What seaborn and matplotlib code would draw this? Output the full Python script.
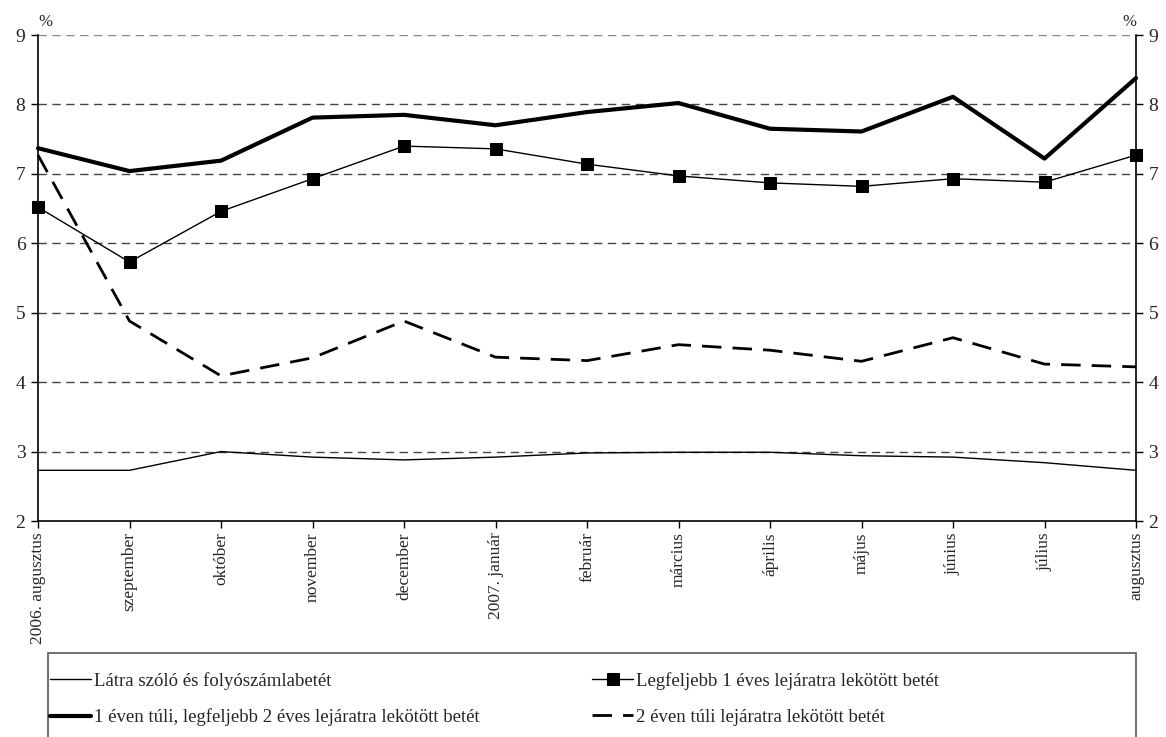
import matplotlib
matplotlib.use("Agg")
import matplotlib.pyplot as plt
from matplotlib.patches import Rectangle
import seaborn as sns
import pandas as pd
import numpy as np

months = ["2006. augusztus", "szeptember", "október", "november", "december",
          "2007. január", "február", "március", "április", "május", "június",
          "július", "augusztus"]

latra = [2.73, 2.73, 3.00, 2.92, 2.88, 2.92, 2.98, 2.99, 2.99, 2.94, 2.92, 2.84, 2.73]
max1ev = [6.52, 5.73, 6.46, 6.93, 7.40, 7.36, 7.14, 6.97, 6.87, 6.82, 6.93, 6.88, 7.27]
ev1_2 = [7.37, 7.04, 7.19, 7.81, 7.85, 7.70, 7.89, 8.02, 7.65, 7.61, 8.11, 7.22, 8.38]
ev2plus = [7.27, 4.88, 4.09, 4.35, 4.88, 4.36, 4.31, 4.54, 4.46, 4.30, 4.64, 4.26, 4.22]

labels = ["Látra szóló és folyószámlabetét",
          "Legfeljebb 1 éves lejáratra lekötött betét",
          "1 éven túli, legfeljebb 2 éves lejáratra lekötött betét",
          "2 éven túli lejáratra lekötött betét"]

sns.set_style("ticks")
plt.rcParams['font.family'] = ['Liberation Serif', 'DejaVu Serif']

fig = plt.figure(figsize=(11.66, 7.37), dpi=100)
ax = fig.add_axes([38/1166, 1-521/737, (1136-38)/1166, (521-35)/737])

x = np.arange(len(months))
df = pd.DataFrame({"x": x, "latra": latra, "max1ev": max1ev, "ev1_2": ev1_2, "ev2plus": ev2plus})

sns.lineplot(data=df, x="x", y="latra", ax=ax, color="black", linewidth=1.0, label=labels[0])
sns.lineplot(data=df, x="x", y="max1ev", ax=ax, color="black", linewidth=1.0,
             marker="s", markersize=8, markeredgecolor="black", label=labels[1])
sns.lineplot(data=df, x="x", y="ev1_2", ax=ax, color="black", linewidth=3.0, label=labels[2])
sns.lineplot(data=df, x="x", y="ev2plus", ax=ax, color="black", linewidth=2.0, label=labels[3])
ax.lines[-1].set_dashes([7, 4])
for ln in ax.lines:
    ln.set_clip_on(False)

ax.set_xlim(0, 12)
ax.set_ylim(2, 9)
ax.set_yticks(range(2, 10))
ax.set_xticks(x)
ax.set_xticklabels(months, rotation=90, fontsize=12.5)
ax.set_xlabel("")
ax.set_ylabel("")
for yv in range(3, 10):
    ax.axhline(yv, color="#444444" if yv < 9 else "#888888", linewidth=1.0,
               linestyle=(0, (6, 4)), zorder=0)

ax.tick_params(axis="y", which="both", left=True, right=True, labelleft=True, labelright=True,
               direction="out", length=5, width=1, labelsize=14, pad=4, color="black")
ax.tick_params(axis="x", direction="out", length=5, width=1, pad=3, color="black")
for s in ["left", "right", "bottom"]:
    ax.spines[s].set_visible(True)
    ax.spines[s].set_color("black")
    ax.spines[s].set_linewidth(1.2)
ax.spines["top"].set_visible(False)

ax.text(0, 1.01, "%", transform=ax.transAxes, ha="left", va="bottom", fontsize=12)
ax.text(1, 1.01, "%", transform=ax.transAxes, ha="right", va="bottom", fontsize=12)

handles, lbls = ax.get_legend_handles_labels()
ax.get_legend().remove()
order = [0, 2, 1, 3]
leg = fig.legend([handles[i] for i in order], [lbls[i] for i in order],
                 loc="upper left", ncol=2, bbox_to_anchor=(50/1166, 1-672/737),
                 frameon=False, fontsize=13.5, handlelength=2.2, handletextpad=0.15,
                 borderaxespad=0, labelspacing=1.0, borderpad=0, columnspacing=6.0)
fig.patches.append(Rectangle((48/1166, -0.01), (1136-48)/1166, (737-653)/737 + 0.01,
                             transform=fig.transFigure, fill=False,
                             edgecolor="#555555", linewidth=1.2))

fig.savefig("out.png", dpi=100)
